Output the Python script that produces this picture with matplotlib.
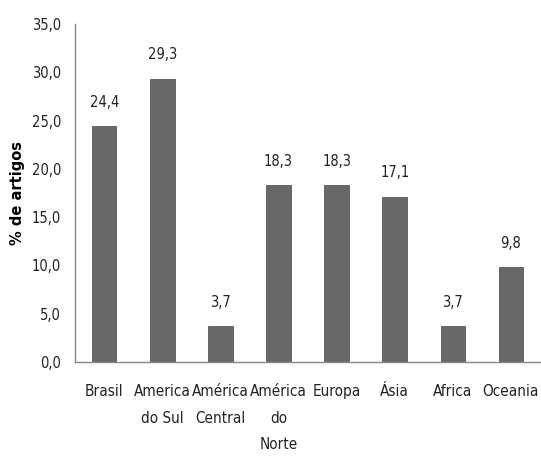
import matplotlib
matplotlib.use("Agg")
import matplotlib.pyplot as plt

regioes = ["Brasil", "America\ndo Sul", "América\nCentral", "América\ndo\nNorte",
           "Europa", "Ásia", "Africa", "Oceania"]
percentuais = [24.4, 29.3, 3.7, 18.3, 18.3, 17.1, 3.7, 9.8]
y_ticks = [0, 5, 10, 15, 20, 25, 30, 35]

plt.rcParams['font.family'] = ['DejaVu Sans']
plt.rcParams['font.stretch'] = 'condensed'

fig = plt.figure(figsize=(5.41, 4.59), dpi=100)
ax = fig.add_axes([0.139, 0.211, 0.859, 0.737])

x = range(len(regioes))
ax.bar(x, percentuais, width=0.42, color="#686868", edgecolor="#5a5a5a", linewidth=0.6)

for xi, v in zip(x, percentuais):
    ax.annotate(f"{v:.1f}".replace(".", ","), (xi, v), xytext=(0, 12),
                textcoords="offset points", ha="center", va="bottom",
                fontsize=10.5, color="#222222")

ax.set_ylim(0, 35)
ax.set_xlim(-0.5, len(regioes) - 0.5)
ax.set_yticks(y_ticks)
ax.set_yticklabels([f"{t:.1f}".replace(".", ",") for t in y_ticks], fontsize=10.5, color="#222222")
ax.set_xticks(list(x))
ax.set_xticklabels(regioes, fontsize=11, color="#222222", linespacing=1.95, va="top")
ax.tick_params(axis="both", length=0)
ax.tick_params(axis="x", pad=16)
ax.tick_params(axis="y", pad=10)

for s in ["top", "right"]:
    ax.spines[s].set_visible(False)
for s in ["left", "bottom"]:
    ax.spines[s].set_color("#888888")
    ax.spines[s].set_linewidth(1)

ax.set_ylabel("% de artigos", fontsize=10.5, fontweight="bold", fontstretch="normal",
              labelpad=5)

fig.savefig("out.png", dpi=100)
